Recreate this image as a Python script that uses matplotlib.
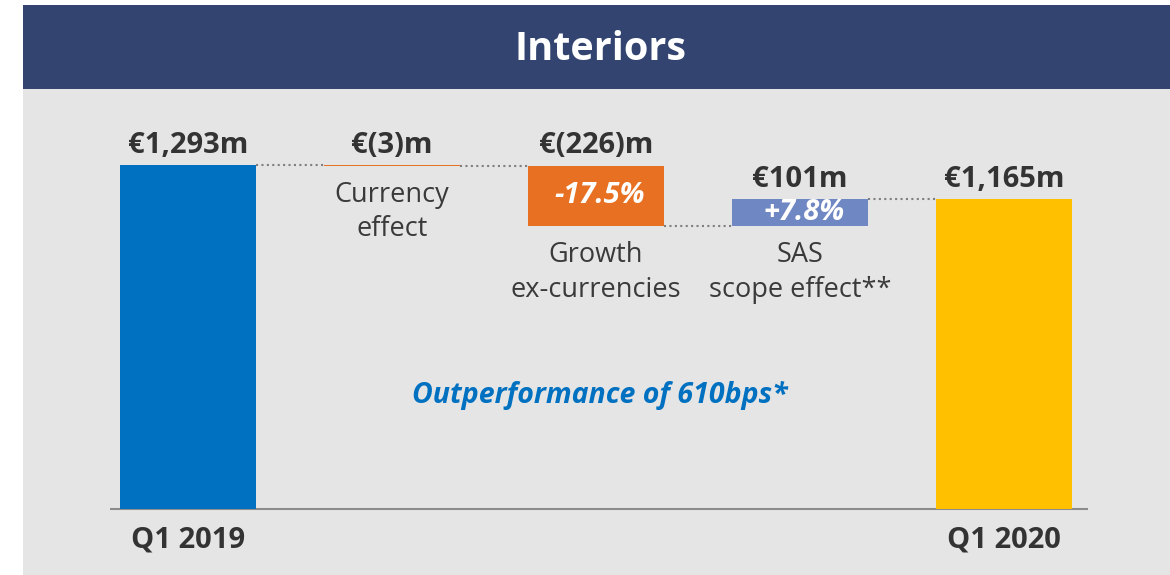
import matplotlib
matplotlib.use("Agg")
import matplotlib.pyplot as plt
from matplotlib.patches import Rectangle

plt.rcParams['font.family'] = ['Open Sans', 'DejaVu Sans']

# ---- data ----
title = "Interiors"
categories = ["Q1 2019", "Currency\neffect", "Growth\nex-currencies", "SAS\nscope effect**", "Q1 2020"]
values = [1293, -3, -226, 101, 1165]          # start, deltas, end
kinds = ["total", "delta", "delta", "delta", "total"]
value_labels = ["€1,293m", "€(3)m", "€(226)m", "€101m", "€1,165m"]
pct_labels = ["", "", "-17.5%", "+7.8%", ""]
note = "Outperformance of 610bps*"
colors = ["#0070C0", "#E87022", "#E87022", "#6F87C2", "#FFC000"]

W, H, DPI = 1170, 575, 100
fig = plt.figure(figsize=(W / DPI, H / DPI), dpi=DPI)
fig.patch.set_facecolor("white")

# background panels (figure fraction)
fig.add_artist(Rectangle((23 / W, 0), 1 - 23 / W, (H - 89) / H, transform=fig.transFigure,
                         facecolor="#E5E5E5", edgecolor="none", zorder=0))
fig.add_artist(Rectangle((23 / W, (H - 89) / H), 1 - 23 / W, 84 / H, transform=fig.transFigure,
                         facecolor="#32446F", edgecolor="none", zorder=0))
fig.text(600 / W, 1 - 50 / H, title, color="white", fontsize=28.5, fontweight="bold",
         ha="center", va="center")

# main axes covering whole figure, calibrated so that data maps to pixels
ax = fig.add_axes([0, 0, 1, 1])
ax.set_facecolor("none")
x0_px, dx_px = 188, 204            # centre of first bar, spacing
base_px, scale = 509, 344 / 1293   # baseline pixel row, px per unit
ax.set_xlim((0 - x0_px) / dx_px, (W - x0_px) / dx_px)
ax.set_ylim(-(H - base_px) / scale, base_px / scale)
ax.axis("off")

bw = 0.667
bottoms, tops, running = [], [], 0
for v, k in zip(values, kinds):
    if k == "total":
        bottoms.append(0); tops.append(v); running = v
    else:
        new = running + v
        bottoms.append(min(running, new)); tops.append(max(running, new)); running = new

xs = list(range(len(values)))
ax.bar(xs, [t - b for t, b in zip(tops, bottoms)], bottom=bottoms, width=bw,
       color=colors, edgecolor="none", zorder=3)

# baseline
ax.hlines(0, xs[0] - 0.38, xs[-1] + 0.41, color="#8C8C8C", lw=1.5, zorder=2)

# connectors
run = 0
levels = []
for v, k in zip(values, kinds):
    run = v if k == "total" else run + v
    levels.append(run)
for i in range(len(values) - 1):
    ax.hlines(levels[i], xs[i] + bw / 2, xs[i + 1] - bw / 2, color="#7F7F7F", lw=1.5,
              linestyles=(0, (1, 1.6)), zorder=2)

txt = "#333333"
for i in xs:
    ax.annotate(value_labels[i], (xs[i], tops[i]), xytext=(0, 9), textcoords="offset points",
                ha="center", va="baseline", fontsize=21, fontweight="bold", color=txt)
    if kinds[i] == "delta":
        ax.annotate(categories[i], (xs[i], bottoms[i]), xytext=(0, -11), textcoords="offset points",
                    ha="center", va="top", fontsize=19.5, color="#3A3A3A", linespacing=1.3)
    else:
        ax.annotate(categories[i], (xs[i], 0), xytext=(0, -22), textcoords="offset points",
                    ha="center", va="center", fontsize=21, fontweight="bold", color=txt)
    if pct_labels[i]:
        ax.text(xs[i] + 0.02, (tops[i] + bottoms[i]) / 2, pct_labels[i], ha="center", va="center",
                fontsize=21, fontweight="bold", fontstyle="italic", color="white", zorder=4)

fig.text(600 / W, 1 - 395 / H, note, color="#0070C0", fontsize=20.5, fontweight="bold",
         fontstyle="italic", ha="center", va="center")

fig.savefig("out.png", dpi=DPI)
